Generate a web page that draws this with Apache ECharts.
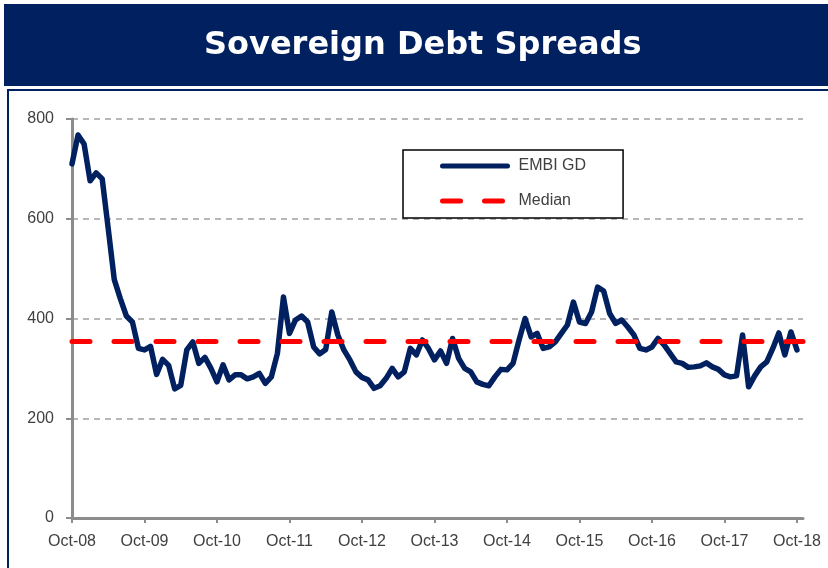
<!DOCTYPE html>
<html>
<head>
<meta charset="utf-8">
<script src="https://cdn.jsdelivr.net/npm/echarts@6/dist/echarts.min.js"></script>
<style>
  html, body { margin: 0; padding: 0; background: #ffffff; }
  #chart { width: 828px; height: 568px; }
</style>
</head>
<body>
<div id="chart"></div>
<script>
// Monthly EMBI Global Diversified spread (bp), Oct-08 to Oct-18
const embiGD = [
  710, 768, 750, 676, 692, 680, 580, 478, 440, 405, 393, 340,
  337, 344, 288, 318, 306, 259, 266, 337, 353, 310, 322, 300,
  273, 307, 277, 287, 287, 279, 283, 290, 270, 283, 330, 443,
  370, 397, 405, 393, 343, 329, 338, 413, 367, 337, 317, 293,
  282, 277, 260, 265, 280, 300, 283, 293, 340, 327, 357, 340,
  317, 335, 310, 360, 320, 300, 293, 273, 268, 265, 283, 298,
  297, 310, 357, 400, 363, 370, 340, 343, 353, 370, 387, 433,
  393, 390, 413, 463, 455, 410, 390, 397, 383, 367, 340, 337,
  343, 360, 347, 330, 313, 310, 302, 303, 305, 311, 303, 298,
  287, 283, 285, 367, 263, 285, 303, 313, 340, 371, 327, 373,
  337
];
const MEDIAN = 355;

const monthNames = ['Jan','Feb','Mar','Apr','May','Jun','Jul','Aug','Sep','Oct','Nov','Dec'];
// Month categories Oct-08 .. Nov-18 (axis runs one month past the data)
const months = [];
for (let k = 0; k < 122; k++) {
  const m = (9 + k) % 12;
  const y = 8 + Math.floor((9 + k) / 12);
  months.push(monthNames[m] + '-' + String(y).padStart(2, '0'));
}
const yTicks = { min: 0, max: 800, step: 200 };

const NAVY = '#002060';
const RED = '#ff0000';
const AXIS_GREY = '#8c8c8c';
const LABEL = '#404040';
const FONT = '"Liberation Sans", Arial, sans-serif';
const MEDIAN_DASH = [18, 24];

const chart = echarts.init(document.getElementById('chart'), null, { renderer: 'canvas' });
chart.setOption({
  backgroundColor: '#ffffff',
  animation: false,
  graphic: [
    { type: 'rect', shape: { x: 4, y: 4, width: 830, height: 82 }, style: { fill: NAVY }, z: 0 },
    { type: 'rect', shape: { x: 8, y: 90, width: 830, height: 490 },
      style: { fill: 'none', stroke: NAVY, lineWidth: 2 }, z: 0 },
    { type: 'text', left: 204, top: 30, z: 5,
      style: { text: 'Sovereign Debt Spreads', fill: '#ffffff',
        font: 'bold 32px "DejaVu Sans", Verdana, sans-serif' } }
  ],
  grid: { left: 72, top: 119, width: 731, height: 399, containLabel: false },
  legend: {
    left: 403, top: 150, orient: 'vertical',
    padding: [8, 37, 9, 37],
    itemWidth: 65, itemHeight: 14, itemGap: 19,
    borderColor: '#000000', borderWidth: 1.5,
    textStyle: { fontFamily: FONT, fontSize: 16, color: LABEL, padding: [0, 0, 0, 6] },
    data: [
      { name: 'EMBI GD', itemStyle: { opacity: 0 },
        lineStyle: { color: NAVY, width: 5, cap: 'round' } },
      { name: 'Median', itemStyle: { opacity: 0 },
        lineStyle: { color: RED, width: 5, type: MEDIAN_DASH, cap: 'round' } }
    ]
  },
  xAxis: {
    type: 'category',
    data: months,
    boundaryGap: false,
    axisLine: { lineStyle: { color: AXIS_GREY, width: 3 } },
    axisTick: { interval: 11, length: 5, lineStyle: { color: AXIS_GREY, width: 2 } },
    axisLabel: { interval: 11, color: LABEL, fontFamily: FONT, fontSize: 16, margin: 16 },
    splitLine: { show: false }
  },
  yAxis: {
    type: 'value',
    min: yTicks.min, max: yTicks.max, interval: yTicks.step,
    axisLine: { show: true, lineStyle: { color: AXIS_GREY, width: 3 } },
    axisTick: { show: true, length: 6, lineStyle: { color: AXIS_GREY, width: 2 } },
    axisLabel: { color: LABEL, fontFamily: FONT, fontSize: 16, margin: 18 },
    splitLine: { lineStyle: { color: '#a0a0a0', width: 1.5, type: [6, 5] } }
  },
  series: [
    {
      name: 'EMBI GD',
      type: 'line',
      data: embiGD,
      showSymbol: false,
      symbol: 'none',
      z: 3,
      color: NAVY,
      lineStyle: { color: NAVY, width: 5.5, cap: 'round', join: 'round' }
    },
    {
      name: 'Median',
      type: 'line',
      data: [],
      symbol: 'none',
      z: 4,
      color: RED,
      lineStyle: { color: RED, width: 5, type: MEDIAN_DASH, cap: 'round' },
      markLine: {
        silent: true,
        symbol: ['none', 'none'],
        label: { show: false },
        lineStyle: { color: RED, width: 5, type: MEDIAN_DASH, cap: 'round' },
        data: [{ yAxis: MEDIAN }]
      }
    }
  ]
});
</script>
</body>
</html>
